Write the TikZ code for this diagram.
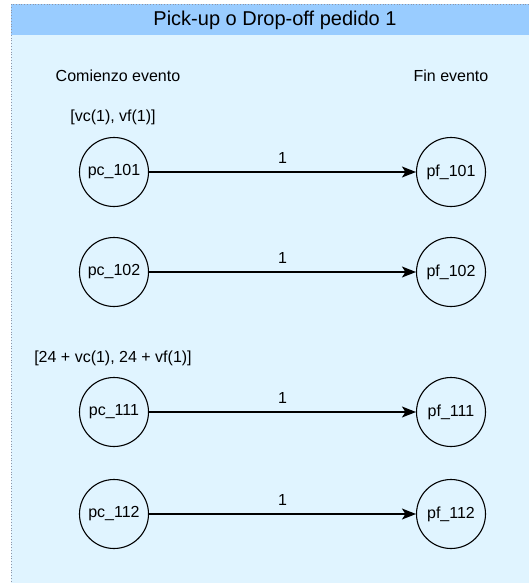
\documentclass[tikz,border=0pt]{standalone}
\usepackage{fontspec}
\setmainfont{Liberation Sans}
\usetikzlibrary{arrows.meta}

\definecolor{titlefill}{RGB}{153,204,255}
\definecolor{bodyfill}{RGB}{224,244,255}
\definecolor{frameline}{RGB}{140,150,170}

\tikzset{
  evento/.style={circle, draw=black, line width=1.1pt, minimum size=69pt,
                 inner sep=0pt, font=\fontsize{16pt}{18pt}\selectfont},
  etiqueta/.style={font=\fontsize{16pt}{18pt}\selectfont, inner sep=0pt},
  flecha/.style={draw=black, line width=1.2pt,
                 -{Stealth[length=14pt, width=11pt, inset=3.5pt]}},
  peso/.style={font=\fontsize{16pt}{18pt}\selectfont, inner sep=0pt}
}

\begin{document}
\begin{tikzpicture}[x=1pt, y=-1pt]
  \useasboundingbox (0,0) rectangle (528,583);

  % container: swimlane with header bar
  \fill[bodyfill] (11,4) rectangle (545,590);
  \fill[titlefill] (11,4) rectangle (545,35);
  \draw[frameline, dotted, line width=0.8pt] (11,590) -- (11,4) -- (545,4);
  \node[font=\fontsize{20pt}{22pt}\selectfont, inner sep=0pt] (titulo) at (275,20)
    {Pick-up o Drop-off pedido 1};

  % column headers
  \node[etiqueta] (comienzo) at (118,76) {Comienzo evento};
  \node[etiqueta] (fin) at (451,76) {Fin evento};

  % time windows
  \node[etiqueta] (ventana1) at (113,117) {[vc(1), vf(1)]};
  \node[etiqueta] (ventana2) at (113,358) {[24 + vc(1), 24 + vf(1)]};

  % start / end event nodes
  \node[evento] (pc101) at (114,172) {pc\_101};
  \node[evento] (pf101) at (451,172) {pf\_101};
  \node[evento] (pc102) at (114,272) {pc\_102};
  \node[evento] (pf102) at (451,272) {pf\_102};
  \node[evento] (pc111) at (114,412) {pc\_111};
  \node[evento] (pf111) at (451,412) {pf\_111};
  \node[evento] (pc112) at (114,514) {pc\_112};
  \node[evento] (pf112) at (451,514) {pf\_112};

  % arcs with weight labels
  \foreach \a/\b in {pc101/pf101, pc102/pf102, pc111/pf111, pc112/pf112} {
    \draw[flecha] (\a) -- node[peso, above=8pt] {1} (\b);
  }
\end{tikzpicture}
\end{document}
